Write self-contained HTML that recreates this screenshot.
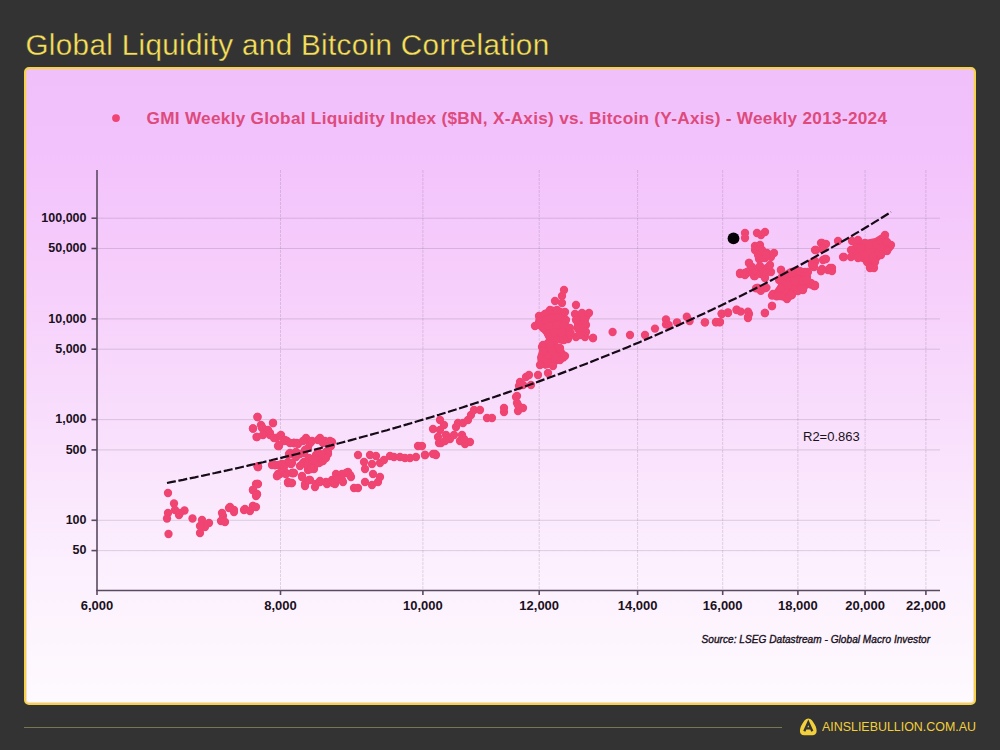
<!DOCTYPE html>
<html><head><meta charset="utf-8"><style>
html,body{margin:0;padding:0;}
body{width:1000px;height:750px;background:#333333;position:relative;overflow:hidden;font-family:"Liberation Sans",sans-serif;}
.title{position:absolute;left:25.5px;top:27px;font-size:29.6px;line-height:36px;color:#f8e05a;letter-spacing:0.35px;white-space:nowrap;-webkit-text-stroke:0.35px #333333;}
.card{position:absolute;left:23.6px;top:67.3px;width:948.4px;height:633.4px;border:2.6px solid #f5d24a;border-radius:5px;box-shadow:inset 0 0 0 1px rgba(246,200,170,0.55);
background:linear-gradient(180deg,#efc0fa 0%,#f2c2fc 13%,#f6cdfb 31%,#f8dcfc 52%,#fcf0fe 79%,#fefafe 100%);}
.fline{position:absolute;left:24px;top:727px;width:758px;height:1.2px;background:#7a7652;}
.flogo{position:absolute;left:822px;top:719.3px;font-size:13.4px;line-height:16px;color:#f2cf3c;white-space:nowrap;transform-origin:0 0;transform:scaleX(0.928);}
svg{position:absolute;left:0;top:0;}
</style></head><body>
<div class="title">Global Liquidity and Bitcoin Correlation</div>
<div class="card"></div>
<div class="fline"></div>
<svg width="1000" height="750" viewBox="0 0 1000 750">
<line x1="97" y1="218.2" x2="940" y2="218.2" stroke="#6a5a70" stroke-opacity="0.22" stroke-width="1"/><line x1="97" y1="248.5" x2="940" y2="248.5" stroke="#6a5a70" stroke-opacity="0.22" stroke-width="1"/><line x1="97" y1="318.9" x2="940" y2="318.9" stroke="#6a5a70" stroke-opacity="0.22" stroke-width="1"/><line x1="97" y1="349.2" x2="940" y2="349.2" stroke="#6a5a70" stroke-opacity="0.22" stroke-width="1"/><line x1="97" y1="419.6" x2="940" y2="419.6" stroke="#6a5a70" stroke-opacity="0.22" stroke-width="1"/><line x1="97" y1="449.9" x2="940" y2="449.9" stroke="#6a5a70" stroke-opacity="0.22" stroke-width="1"/><line x1="97" y1="520.3" x2="940" y2="520.3" stroke="#6a5a70" stroke-opacity="0.22" stroke-width="1"/><line x1="97" y1="550.6" x2="940" y2="550.6" stroke="#6a5a70" stroke-opacity="0.22" stroke-width="1"/><line x1="280.5" y1="170" x2="280.5" y2="590" stroke="#6a5a70" stroke-opacity="0.2" stroke-dasharray="3 1" stroke-width="1"/><line x1="422.9" y1="170" x2="422.9" y2="590" stroke="#6a5a70" stroke-opacity="0.2" stroke-dasharray="3 1" stroke-width="1"/><line x1="539.2" y1="170" x2="539.2" y2="590" stroke="#6a5a70" stroke-opacity="0.2" stroke-dasharray="3 1" stroke-width="1"/><line x1="637.6" y1="170" x2="637.6" y2="590" stroke="#6a5a70" stroke-opacity="0.2" stroke-dasharray="3 1" stroke-width="1"/><line x1="722.7" y1="170" x2="722.7" y2="590" stroke="#6a5a70" stroke-opacity="0.2" stroke-dasharray="3 1" stroke-width="1"/><line x1="797.9" y1="170" x2="797.9" y2="590" stroke="#6a5a70" stroke-opacity="0.2" stroke-dasharray="3 1" stroke-width="1"/><line x1="865.1" y1="170" x2="865.1" y2="590" stroke="#6a5a70" stroke-opacity="0.2" stroke-dasharray="3 1" stroke-width="1"/><line x1="925.9" y1="170" x2="925.9" y2="590" stroke="#6a5a70" stroke-opacity="0.2" stroke-dasharray="3 1" stroke-width="1"/>
<line x1="97" y1="170" x2="97" y2="591" stroke="#5a4a60" stroke-width="1.6"/><line x1="96.3" y1="590.5" x2="940" y2="590.5" stroke="#5a4a60" stroke-width="1.6"/><line x1="91.5" y1="218.2" x2="97" y2="218.2" stroke="#5a4a60" stroke-width="1.6"/><line x1="91.5" y1="248.5" x2="97" y2="248.5" stroke="#5a4a60" stroke-width="1.6"/><line x1="91.5" y1="318.9" x2="97" y2="318.9" stroke="#5a4a60" stroke-width="1.6"/><line x1="91.5" y1="349.2" x2="97" y2="349.2" stroke="#5a4a60" stroke-width="1.6"/><line x1="91.5" y1="419.6" x2="97" y2="419.6" stroke="#5a4a60" stroke-width="1.6"/><line x1="91.5" y1="449.9" x2="97" y2="449.9" stroke="#5a4a60" stroke-width="1.6"/><line x1="91.5" y1="520.3" x2="97" y2="520.3" stroke="#5a4a60" stroke-width="1.6"/><line x1="91.5" y1="550.6" x2="97" y2="550.6" stroke="#5a4a60" stroke-width="1.6"/><line x1="97.0" y1="590" x2="97.0" y2="595" stroke="#5a4a60" stroke-width="1.6"/><line x1="280.5" y1="590" x2="280.5" y2="595" stroke="#5a4a60" stroke-width="1.6"/><line x1="422.9" y1="590" x2="422.9" y2="595" stroke="#5a4a60" stroke-width="1.6"/><line x1="539.2" y1="590" x2="539.2" y2="595" stroke="#5a4a60" stroke-width="1.6"/><line x1="637.6" y1="590" x2="637.6" y2="595" stroke="#5a4a60" stroke-width="1.6"/><line x1="722.7" y1="590" x2="722.7" y2="595" stroke="#5a4a60" stroke-width="1.6"/><line x1="797.9" y1="590" x2="797.9" y2="595" stroke="#5a4a60" stroke-width="1.6"/><line x1="865.1" y1="590" x2="865.1" y2="595" stroke="#5a4a60" stroke-width="1.6"/><line x1="925.9" y1="590" x2="925.9" y2="595" stroke="#5a4a60" stroke-width="1.6"/>
<g font-family="Liberation Sans" font-weight="bold" font-size="12.5" fill="#1a1020"><text x="86.5" y="221.8" text-anchor="end">100,000</text><text x="86.5" y="252.1" text-anchor="end">50,000</text><text x="86.5" y="322.5" text-anchor="end">10,000</text><text x="86.5" y="352.8" text-anchor="end">5,000</text><text x="86.5" y="423.2" text-anchor="end">1,000</text><text x="86.5" y="453.5" text-anchor="end">500</text><text x="86.5" y="523.9" text-anchor="end">100</text><text x="86.5" y="554.2" text-anchor="end">50</text><text x="97.0" y="609.8" font-size="13" text-anchor="middle">6,000</text><text x="280.5" y="609.8" font-size="13" text-anchor="middle">8,000</text><text x="422.9" y="609.8" font-size="13" text-anchor="middle">10,000</text><text x="539.2" y="609.8" font-size="13" text-anchor="middle">12,000</text><text x="637.6" y="609.8" font-size="13" text-anchor="middle">14,000</text><text x="722.7" y="609.8" font-size="13" text-anchor="middle">16,000</text><text x="797.9" y="609.8" font-size="13" text-anchor="middle">18,000</text><text x="865.1" y="609.8" font-size="13" text-anchor="middle">20,000</text><text x="925.9" y="609.8" font-size="13" text-anchor="middle">22,000</text></g>
<circle cx="116" cy="118.1" r="3.9" fill="#f04472"/>
<text x="146.5" y="123.5" font-family="Liberation Sans" font-weight="bold" font-size="17.2" fill="#de4a7c" textLength="740.5" lengthAdjust="spacing">GMI Weekly Global Liquidity Index ($BN, X-Axis) vs. Bitcoin (Y-Axis) - Weekly 2013-2024</text>
<text x="803" y="441.4" font-family="Liberation Sans" font-size="13" fill="#1a1020">R2=0.863</text>
<text x="701.5" y="642.6" font-family="Liberation Sans" font-style="italic" font-size="10.1" fill="#1a1020" stroke="#1a1020" stroke-width="0.35" textLength="228.5" lengthAdjust="spacing">Source: LSEG Datastream - Global Macro Investor</text>
<g fill="#f04472"><polygon points="536,316 544,310 552,306.5 562,308 567,312 568,322 572,328 575,332 570,340 562,344 552,342 545,336 540,330 534,327"/><polygon points="573,312 590,310 592,314 589,320 588,332 584,337 578,336 574,330 574,320"/><polygon points="540,345 548,341 556,342 562,347 568,355 566,361 560,363 552,367 545,369 538,365 537,357 539,351"/><polygon points="778,275 790,268 801,267 809,271 810,280 815,284 819,287 815,290 808,288 805,293 797,294 793,299 787,302 777,299 770,296 773,292 778,285"/><polygon points="853,242 859,239 865,240 875,238 883,233 888,235 889,240 893,244 894,248 890,253 883,256 879,261 877,267 873,271 867,269 865,263 859,261 854,258 851,253 852,247"/><circle cx="168" cy="493" r="4.15"/><circle cx="174" cy="503.5" r="4.15"/><circle cx="168" cy="513" r="4.15"/><circle cx="167" cy="518.5" r="4.15"/><circle cx="175" cy="510" r="4.15"/><circle cx="179" cy="515" r="4.15"/><circle cx="184.5" cy="510.5" r="4.15"/><circle cx="180" cy="513" r="4.15"/><circle cx="168.5" cy="534" r="4.15"/><circle cx="192.5" cy="518.5" r="4.15"/><circle cx="202" cy="520" r="4.15"/><circle cx="209" cy="523" r="4.15"/><circle cx="205" cy="527" r="4.15"/><circle cx="200" cy="533" r="4.15"/><circle cx="200" cy="526" r="4.15"/><circle cx="223" cy="516" r="4.15"/><circle cx="221" cy="521" r="4.15"/><circle cx="225" cy="522" r="4.15"/><circle cx="229" cy="508" r="4.15"/><circle cx="234" cy="512" r="4.15"/><circle cx="244" cy="510" r="4.15"/><circle cx="250" cy="511" r="4.15"/><circle cx="253" cy="506" r="4.15"/><circle cx="253" cy="490" r="4.15"/><circle cx="256" cy="484" r="4.15"/><circle cx="253" cy="490" r="4.15"/><circle cx="256" cy="496" r="4.15"/><circle cx="230" cy="507" r="4.15"/><circle cx="234" cy="510" r="4.15"/><circle cx="245" cy="509" r="4.15"/><circle cx="253" cy="506" r="4.15"/><circle cx="222" cy="513" r="4.15"/><circle cx="257.5" cy="417" r="4.15"/><circle cx="253" cy="428.5" r="4.15"/><circle cx="257" cy="437" r="4.15"/><circle cx="262" cy="427" r="4.15"/><circle cx="266" cy="432" r="4.15"/><circle cx="273" cy="423" r="4.15"/><circle cx="270" cy="435" r="4.15"/><circle cx="276" cy="438" r="4.15"/><circle cx="279" cy="446" r="4.15"/><circle cx="281" cy="435" r="4.15"/><circle cx="287" cy="441" r="4.15"/><circle cx="294" cy="443" r="4.15"/><circle cx="257.5" cy="466.5" r="4.15"/><circle cx="272" cy="465" r="4.15"/><circle cx="279" cy="465" r="4.15"/><circle cx="288" cy="463" r="4.15"/><circle cx="292" cy="454" r="4.15"/><circle cx="278" cy="474" r="4.15"/><circle cx="286" cy="473" r="4.15"/><circle cx="293" cy="473" r="4.15"/><circle cx="257.5" cy="417" r="4.15"/><circle cx="253" cy="428.5" r="4.15"/><circle cx="256.5" cy="437" r="4.15"/><circle cx="261" cy="425" r="4.15"/><circle cx="265" cy="430" r="4.15"/><circle cx="273" cy="423" r="4.15"/><circle cx="270" cy="433" r="4.15"/><circle cx="274" cy="438" r="4.15"/><circle cx="279" cy="445" r="4.15"/><circle cx="280" cy="436" r="4.15"/><circle cx="285" cy="440" r="4.15"/><circle cx="294" cy="443" r="4.15"/><circle cx="297" cy="443" r="4.15"/><circle cx="306" cy="438" r="4.15"/><circle cx="310" cy="443" r="4.15"/><circle cx="308" cy="448" r="4.15"/><circle cx="320" cy="438" r="4.15"/><circle cx="325" cy="441" r="4.15"/><circle cx="332" cy="442" r="4.15"/><circle cx="328" cy="452" r="4.15"/><circle cx="290" cy="453" r="4.15"/><circle cx="296" cy="452" r="4.15"/><circle cx="304" cy="453" r="4.15"/><circle cx="292" cy="463" r="4.15"/><circle cx="288" cy="462" r="4.15"/><circle cx="275" cy="465" r="4.15"/><circle cx="280" cy="466" r="4.15"/><circle cx="258" cy="467" r="4.15"/><circle cx="304" cy="462" r="4.15"/><circle cx="310" cy="461" r="4.15"/><circle cx="320" cy="462" r="4.15"/><circle cx="308" cy="467" r="4.15"/><circle cx="314" cy="467" r="4.15"/><circle cx="316" cy="455" r="4.15"/><circle cx="280" cy="474" r="4.15"/><circle cx="292" cy="473" r="4.15"/><circle cx="336" cy="474" r="4.15"/><circle cx="258" cy="466.5" r="4.15"/><circle cx="257.5" cy="484" r="4.15"/><circle cx="253" cy="490" r="4.15"/><circle cx="257" cy="494.5" r="4.15"/><circle cx="277" cy="476" r="4.15"/><circle cx="286" cy="474" r="4.15"/><circle cx="293" cy="473" r="4.15"/><circle cx="288" cy="482" r="4.15"/><circle cx="292" cy="483" r="4.15"/><circle cx="275" cy="465" r="4.15"/><circle cx="282" cy="464" r="4.15"/><circle cx="291" cy="463" r="4.15"/><circle cx="289" cy="454" r="4.15"/><circle cx="303" cy="463" r="4.15"/><circle cx="308" cy="466" r="4.15"/><circle cx="312" cy="462" r="4.15"/><circle cx="320" cy="462" r="4.15"/><circle cx="308" cy="470" r="4.15"/><circle cx="314" cy="469" r="4.15"/><circle cx="302" cy="476" r="4.15"/><circle cx="305" cy="484" r="4.15"/><circle cx="310" cy="480" r="4.15"/><circle cx="316" cy="484" r="4.15"/><circle cx="320" cy="482" r="4.15"/><circle cx="326" cy="482" r="4.15"/><circle cx="332" cy="480" r="4.15"/><circle cx="337" cy="476" r="4.15"/><circle cx="335" cy="484" r="4.15"/><circle cx="326" cy="452" r="4.15"/><circle cx="328" cy="454" r="4.15"/><circle cx="278" cy="446" r="4.15"/><circle cx="294" cy="443" r="4.15"/><circle cx="310" cy="443" r="4.15"/><circle cx="323" cy="443" r="4.15"/><circle cx="258" cy="467" r="4.15"/><circle cx="275" cy="465" r="4.15"/><circle cx="282" cy="464" r="4.15"/><circle cx="291" cy="464" r="4.15"/><circle cx="277" cy="476" r="4.15"/><circle cx="286" cy="474" r="4.15"/><circle cx="294" cy="473" r="4.15"/><circle cx="288" cy="483" r="4.15"/><circle cx="291" cy="483" r="4.15"/><circle cx="258" cy="484" r="4.15"/><circle cx="257" cy="494" r="4.15"/><circle cx="256" cy="507" r="4.15"/><circle cx="305" cy="462" r="4.15"/><circle cx="311" cy="464" r="4.15"/><circle cx="319" cy="463" r="4.15"/><circle cx="323" cy="461" r="4.15"/><circle cx="311" cy="469" r="4.15"/><circle cx="302" cy="477" r="4.15"/><circle cx="305" cy="486" r="4.15"/><circle cx="309" cy="480" r="4.15"/><circle cx="315" cy="487" r="4.15"/><circle cx="320" cy="481" r="4.15"/><circle cx="327" cy="484" r="4.15"/><circle cx="333" cy="483" r="4.15"/><circle cx="338" cy="479" r="4.15"/><circle cx="342" cy="474" r="4.15"/><circle cx="348" cy="472" r="4.15"/><circle cx="351" cy="477" r="4.15"/><circle cx="343" cy="482" r="4.15"/><circle cx="354" cy="488" r="4.15"/><circle cx="358" cy="455" r="4.15"/><circle cx="364" cy="462" r="4.15"/><circle cx="370" cy="455" r="4.15"/><circle cx="376" cy="456" r="4.15"/><circle cx="365" cy="469" r="4.15"/><circle cx="372" cy="464" r="4.15"/><circle cx="380" cy="463" r="4.15"/><circle cx="384" cy="460" r="4.15"/><circle cx="390" cy="456" r="4.15"/><circle cx="394" cy="457" r="4.15"/><circle cx="400" cy="457" r="4.15"/><circle cx="405" cy="458" r="4.15"/><circle cx="410" cy="458" r="4.15"/><circle cx="416" cy="457" r="4.15"/><circle cx="418" cy="446" r="4.15"/><circle cx="425" cy="455" r="4.15"/><circle cx="433" cy="454" r="4.15"/><circle cx="436" cy="455" r="4.15"/><circle cx="439" cy="443" r="4.15"/><circle cx="346" cy="473" r="4.15"/><circle cx="350" cy="475" r="4.15"/><circle cx="342" cy="480" r="4.15"/><circle cx="373" cy="474" r="4.15"/><circle cx="380" cy="477" r="4.15"/><circle cx="378" cy="482" r="4.15"/><circle cx="372" cy="485" r="4.15"/><circle cx="365" cy="482" r="4.15"/><circle cx="358" cy="488" r="4.15"/><circle cx="330" cy="441" r="4.15"/><circle cx="433" cy="429" r="4.15"/><circle cx="440" cy="420" r="4.15"/><circle cx="444" cy="425" r="4.15"/><circle cx="440" cy="430" r="4.15"/><circle cx="438" cy="437" r="4.15"/><circle cx="441" cy="443" r="4.15"/><circle cx="446" cy="435" r="4.15"/><circle cx="450" cy="439" r="4.15"/><circle cx="445" cy="441" r="4.15"/><circle cx="454" cy="435" r="4.15"/><circle cx="456" cy="427" r="4.15"/><circle cx="458" cy="423" r="4.15"/><circle cx="463" cy="423" r="4.15"/><circle cx="468" cy="420" r="4.15"/><circle cx="471" cy="415" r="4.15"/><circle cx="474" cy="410" r="4.15"/><circle cx="480" cy="410" r="4.15"/><circle cx="462" cy="435" r="4.15"/><circle cx="460" cy="441" r="4.15"/><circle cx="465" cy="444" r="4.15"/><circle cx="470" cy="442" r="4.15"/><circle cx="464" cy="439" r="4.15"/><circle cx="487" cy="418" r="4.15"/><circle cx="492" cy="418" r="4.15"/><circle cx="504" cy="412" r="4.15"/><circle cx="516" cy="397" r="4.15"/><circle cx="517" cy="403" r="4.15"/><circle cx="518" cy="411" r="4.15"/><circle cx="519" cy="386" r="4.15"/><circle cx="422" cy="446" r="4.15"/><circle cx="425" cy="455" r="4.15"/><circle cx="435" cy="454" r="4.15"/><circle cx="504" cy="408" r="4.15"/><circle cx="517" cy="396" r="4.15"/><circle cx="518" cy="405" r="4.15"/><circle cx="523" cy="408" r="4.15"/><circle cx="520" cy="382" r="4.15"/><circle cx="526" cy="377" r="4.15"/><circle cx="529" cy="375" r="4.15"/><circle cx="523" cy="385" r="4.15"/><circle cx="531" cy="385" r="4.15"/><circle cx="538" cy="375" r="4.15"/><circle cx="548" cy="373" r="4.15"/><circle cx="540" cy="365" r="4.15"/><circle cx="542" cy="358" r="4.15"/><circle cx="548" cy="363" r="4.15"/><circle cx="553" cy="366" r="4.15"/><circle cx="548" cy="355" r="4.15"/><circle cx="555" cy="358" r="4.15"/><circle cx="560" cy="360" r="4.15"/><circle cx="565" cy="356" r="4.15"/><circle cx="542" cy="347" r="4.15"/><circle cx="548" cy="343" r="4.15"/><circle cx="553" cy="350" r="4.15"/><circle cx="560" cy="349" r="4.15"/><circle cx="552" cy="339" r="4.15"/><circle cx="560" cy="339" r="4.15"/><circle cx="568" cy="339" r="4.15"/><circle cx="576" cy="337" r="4.15"/><circle cx="585" cy="337" r="4.15"/><circle cx="593" cy="338" r="4.15"/><circle cx="549" cy="336" r="4.15"/><circle cx="564" cy="290" r="4.15"/><circle cx="562" cy="296" r="4.15"/><circle cx="555" cy="301" r="4.15"/><circle cx="562" cy="303" r="4.15"/><circle cx="576" cy="305" r="4.15"/><circle cx="550" cy="310" r="4.15"/><circle cx="557" cy="310" r="4.15"/><circle cx="565" cy="312" r="4.15"/><circle cx="539" cy="316" r="4.15"/><circle cx="545" cy="314" r="4.15"/><circle cx="535" cy="326" r="4.15"/><circle cx="540" cy="322" r="4.15"/><circle cx="546" cy="320" r="4.15"/><circle cx="552" cy="318" r="4.15"/><circle cx="559" cy="318" r="4.15"/><circle cx="566" cy="320" r="4.15"/><circle cx="543" cy="328" r="4.15"/><circle cx="550" cy="326" r="4.15"/><circle cx="557" cy="325" r="4.15"/><circle cx="564" cy="326" r="4.15"/><circle cx="570" cy="328" r="4.15"/><circle cx="548" cy="334" r="4.15"/><circle cx="555" cy="333" r="4.15"/><circle cx="562" cy="333" r="4.15"/><circle cx="570" cy="335" r="4.15"/><circle cx="556" cy="340" r="4.15"/><circle cx="564" cy="340" r="4.15"/><circle cx="575" cy="314" r="4.15"/><circle cx="582" cy="313" r="4.15"/><circle cx="589" cy="313" r="4.15"/><circle cx="576" cy="320" r="4.15"/><circle cx="584" cy="320" r="4.15"/><circle cx="586" cy="325" r="4.15"/><circle cx="580" cy="328" r="4.15"/><circle cx="586" cy="332" r="4.15"/><circle cx="580" cy="335" r="4.15"/><circle cx="593" cy="338" r="4.15"/><circle cx="543" cy="345" r="4.15"/><circle cx="550" cy="344" r="4.15"/><circle cx="560" cy="348" r="4.15"/><circle cx="543" cy="351" r="4.15"/><circle cx="552" cy="351" r="4.15"/><circle cx="612.6" cy="332" r="4.15"/><circle cx="630" cy="335" r="4.15"/><circle cx="645" cy="335" r="4.15"/><circle cx="655" cy="328.6" r="4.15"/><circle cx="666" cy="319.5" r="4.15"/><circle cx="666" cy="324.4" r="4.15"/><circle cx="668.6" cy="325" r="4.15"/><circle cx="677" cy="322.3" r="4.15"/><circle cx="686.8" cy="316.7" r="4.15"/><circle cx="689.6" cy="321" r="4.15"/><circle cx="705" cy="322.3" r="4.15"/><circle cx="716" cy="322.3" r="4.15"/><circle cx="719.7" cy="322.3" r="4.15"/><circle cx="721.8" cy="314" r="4.15"/><circle cx="728" cy="312.5" r="4.15"/><circle cx="736.5" cy="309.7" r="4.15"/><circle cx="745" cy="233" r="4.15"/><circle cx="745" cy="238" r="4.15"/><circle cx="757" cy="233" r="4.15"/><circle cx="765" cy="232" r="4.15"/><circle cx="761" cy="235" r="4.15"/><circle cx="755" cy="246" r="4.15"/><circle cx="760" cy="245" r="4.15"/><circle cx="760" cy="252" r="4.15"/><circle cx="767" cy="253" r="4.15"/><circle cx="774" cy="253" r="4.15"/><circle cx="759" cy="259" r="4.15"/><circle cx="765" cy="258" r="4.15"/><circle cx="749" cy="263" r="4.15"/><circle cx="752" cy="267" r="4.15"/><circle cx="740" cy="273" r="4.15"/><circle cx="747" cy="273" r="4.15"/><circle cx="754" cy="276" r="4.15"/><circle cx="761" cy="274" r="4.15"/><circle cx="767" cy="268" r="4.15"/><circle cx="771" cy="272" r="4.15"/><circle cx="765" cy="278" r="4.15"/><circle cx="781" cy="270" r="4.15"/><circle cx="758" cy="288" r="4.15"/><circle cx="765" cy="288" r="4.15"/><circle cx="782" cy="282" r="4.15"/><circle cx="787" cy="276" r="4.15"/><circle cx="793" cy="272" r="4.15"/><circle cx="799" cy="272" r="4.15"/><circle cx="805" cy="275" r="4.15"/><circle cx="790" cy="282" r="4.15"/><circle cx="798" cy="280" r="4.15"/><circle cx="805" cy="282" r="4.15"/><circle cx="785" cy="290" r="4.15"/><circle cx="795" cy="288" r="4.15"/><circle cx="803" cy="290" r="4.15"/><circle cx="814" cy="286" r="4.15"/><circle cx="812" cy="265" r="4.15"/><circle cx="815" cy="262" r="4.15"/><circle cx="821" cy="271" r="4.15"/><circle cx="823" cy="260" r="4.15"/><circle cx="815" cy="250" r="4.15"/><circle cx="821" cy="243" r="4.15"/><circle cx="823" cy="248" r="4.15"/><circle cx="773" cy="294" r="4.15"/><circle cx="779" cy="294" r="4.15"/><circle cx="749" cy="263" r="4.15"/><circle cx="747" cy="272" r="4.15"/><circle cx="755" cy="276" r="4.15"/><circle cx="761" cy="271" r="4.15"/><circle cx="768" cy="270" r="4.15"/><circle cx="765" cy="277" r="4.15"/><circle cx="757" cy="288" r="4.15"/><circle cx="765" cy="288" r="4.15"/><circle cx="762" cy="258" r="4.15"/><circle cx="771" cy="257" r="4.15"/><circle cx="781" cy="270" r="4.15"/><circle cx="779" cy="280" r="4.15"/><circle cx="785" cy="275" r="4.15"/><circle cx="791" cy="273" r="4.15"/><circle cx="799" cy="271" r="4.15"/><circle cx="805" cy="272" r="4.15"/><circle cx="781" cy="288" r="4.15"/><circle cx="788" cy="285" r="4.15"/><circle cx="795" cy="281" r="4.15"/><circle cx="803" cy="281" r="4.15"/><circle cx="807" cy="277" r="4.15"/><circle cx="773" cy="295" r="4.15"/><circle cx="780" cy="296" r="4.15"/><circle cx="787" cy="299" r="4.15"/><circle cx="792" cy="295" r="4.15"/><circle cx="798" cy="291" r="4.15"/><circle cx="803" cy="289" r="4.15"/><circle cx="815" cy="286" r="4.15"/><circle cx="811" cy="283" r="4.15"/><circle cx="813" cy="265" r="4.15"/><circle cx="815" cy="261" r="4.15"/><circle cx="825" cy="259" r="4.15"/><circle cx="821" cy="271" r="4.15"/><circle cx="828" cy="270" r="4.15"/><circle cx="832" cy="268" r="4.15"/><circle cx="843" cy="257" r="4.15"/><circle cx="772" cy="306" r="4.15"/><circle cx="765" cy="313" r="4.15"/><circle cx="749" cy="314" r="4.15"/><circle cx="748" cy="318" r="4.15"/><circle cx="822" cy="243" r="4.15"/><circle cx="826" cy="244" r="4.15"/><circle cx="816" cy="250" r="4.15"/><circle cx="822" cy="249" r="4.15"/><circle cx="838" cy="241" r="4.15"/><circle cx="826" cy="259" r="4.15"/><circle cx="812" cy="263" r="4.15"/><circle cx="814" cy="267" r="4.15"/><circle cx="822" cy="269" r="4.15"/><circle cx="830" cy="268" r="4.15"/><circle cx="832" cy="271" r="4.15"/><circle cx="808" cy="272" r="4.15"/><circle cx="807" cy="280" r="4.15"/><circle cx="815" cy="285" r="4.15"/><circle cx="844" cy="257" r="4.15"/><circle cx="851" cy="250" r="4.15"/><circle cx="852" cy="241" r="4.15"/><circle cx="858" cy="240" r="4.15"/><circle cx="865" cy="243" r="4.15"/><circle cx="861" cy="248" r="4.15"/><circle cx="851" cy="257" r="4.15"/><circle cx="858" cy="258" r="4.15"/><circle cx="865" cy="255" r="4.15"/><circle cx="871" cy="251" r="4.15"/><circle cx="875" cy="245" r="4.15"/><circle cx="881" cy="240" r="4.15"/><circle cx="885" cy="235" r="4.15"/><circle cx="881" cy="248" r="4.15"/><circle cx="891" cy="245" r="4.15"/><circle cx="887" cy="251" r="4.15"/><circle cx="881" cy="255" r="4.15"/><circle cx="873" cy="257" r="4.15"/><circle cx="867" cy="262" r="4.15"/><circle cx="875" cy="262" r="4.15"/><circle cx="870" cy="268" r="4.15"/><circle cx="874" cy="268" r="4.15"/><circle cx="869" cy="245" r="4.15"/><circle cx="887" cy="242" r="4.15"/><circle cx="704.8" cy="322.4" r="4.15"/><circle cx="716" cy="322" r="4.15"/><circle cx="720" cy="322" r="4.15"/><circle cx="721.6" cy="313.6" r="4.15"/><circle cx="728" cy="313" r="4.15"/><circle cx="736.8" cy="310" r="4.15"/><circle cx="740.8" cy="311.6" r="4.15"/><circle cx="748" cy="311.6" r="4.15"/><circle cx="748" cy="317" r="4.15"/><circle cx="764.8" cy="313" r="4.15"/><circle cx="772" cy="306" r="4.15"/><circle cx="740" cy="274" r="4.15"/><circle cx="744.8" cy="273" r="4.15"/><circle cx="756" cy="288.4" r="4.15"/><circle cx="760.8" cy="290.8" r="4.15"/><circle cx="766.4" cy="287.6" r="4.15"/><circle cx="772" cy="295.6" r="4.15"/><circle cx="776.8" cy="296.4" r="4.15"/><circle cx="262" cy="428" r="4.15"/><circle cx="268" cy="430" r="4.15"/><circle cx="263" cy="435" r="4.15"/><circle cx="284" cy="441" r="4.15"/><circle cx="290" cy="443" r="4.15"/><circle cx="298" cy="444" r="4.15"/><circle cx="303" cy="441" r="4.15"/><circle cx="312" cy="441" r="4.15"/><circle cx="318" cy="440" r="4.15"/><circle cx="328" cy="443" r="4.15"/><circle cx="331" cy="446" r="4.15"/><circle cx="305" cy="450" r="4.15"/><circle cx="300" cy="454" r="4.15"/><circle cx="296" cy="457" r="4.15"/><circle cx="318" cy="452" r="4.15"/><circle cx="322" cy="455" r="4.15"/><circle cx="326" cy="458" r="4.15"/><circle cx="309" cy="458" r="4.15"/><circle cx="313" cy="460" r="4.15"/><circle cx="306" cy="464" r="4.15"/><circle cx="300" cy="466" r="4.15"/><circle cx="284" cy="467" r="4.15"/><circle cx="755" cy="250" r="4.15"/><circle cx="758" cy="255" r="4.15"/><circle cx="762" cy="250" r="4.15"/><circle cx="766" cy="255" r="4.15"/><circle cx="750" cy="270" r="4.15"/><circle cx="755" cy="270" r="4.15"/><circle cx="760" cy="266" r="4.15"/><circle cx="764" cy="272" r="4.15"/><circle cx="770" cy="265" r="4.15"/><circle cx="745" cy="275" r="4.15"/></g>
<polyline points="167.0,483.0 171.0,482.2 175.0,481.4 179.0,480.6 183.0,479.8 187.0,478.9 191.0,478.1 195.0,477.3 199.0,476.4 203.0,475.6 207.0,474.7 211.0,473.8 215.0,473.0 219.0,472.1 223.0,471.2 227.0,470.4 231.0,469.5 235.0,468.6 239.0,467.7 243.0,466.8 247.0,465.9 251.0,464.9 255.0,464.0 259.0,463.1 263.0,462.2 267.0,461.2 271.0,460.3 275.0,459.3 279.0,458.4 283.0,457.4 287.0,456.4 291.0,455.5 295.0,454.5 299.0,453.5 303.0,452.5 307.0,451.5 311.0,450.5 315.0,449.5 319.0,448.5 323.0,447.5 327.0,446.4 331.0,445.4 335.0,444.3 339.0,443.3 343.0,442.2 347.0,441.2 351.0,440.1 355.0,439.0 359.0,437.9 363.0,436.8 367.0,435.7 371.0,434.6 375.0,433.5 379.0,432.4 383.0,431.3 387.0,430.2 391.0,429.0 395.0,427.9 399.0,426.7 403.0,425.5 407.0,424.4 411.0,423.2 415.0,422.0 419.0,420.8 423.0,419.6 427.0,418.4 431.0,417.2 435.0,416.0 439.0,414.8 443.0,413.5 447.0,412.3 451.0,411.0 455.0,409.8 459.0,408.5 463.0,407.2 467.0,405.9 471.0,404.6 475.0,403.3 479.0,402.0 483.0,400.7 487.0,399.4 491.0,398.1 495.0,396.7 499.0,395.4 503.0,394.0 507.0,392.6 511.0,391.3 515.0,389.9 519.0,388.5 523.0,387.1 527.0,385.7 531.0,384.3 535.0,382.8 539.0,381.4 543.0,379.9 547.0,378.5 551.0,377.0 555.0,375.5 559.0,374.1 563.0,372.6 567.0,371.1 571.0,369.6 575.0,368.0 579.0,366.5 583.0,365.0 587.0,363.4 591.0,361.9 595.0,360.3 599.0,358.7 603.0,357.1 607.0,355.5 611.0,353.9 615.0,352.3 619.0,350.7 623.0,349.0 627.0,347.4 631.0,345.7 635.0,344.0 639.0,342.4 643.0,340.7 647.0,339.0 651.0,337.2 655.0,335.5 659.0,333.8 663.0,332.0 667.0,330.3 671.0,328.5 675.0,326.7 679.0,324.9 683.0,323.1 687.0,321.3 691.0,319.5 695.0,317.7 699.0,315.8 703.0,314.0 707.0,312.1 711.0,310.2 715.0,308.3 719.0,306.4 723.0,304.5 727.0,302.6 731.0,300.6 735.0,298.7 739.0,296.7 743.0,294.7 747.0,292.7 751.0,290.7 755.0,288.7 759.0,286.7 763.0,284.6 767.0,282.6 771.0,280.5 775.0,278.4 779.0,276.3 783.0,274.2 787.0,272.1 791.0,270.0 795.0,267.8 799.0,265.7 803.0,263.5 807.0,261.3 811.0,259.1 815.0,256.9 819.0,254.7 823.0,252.4 827.0,250.2 831.0,247.9 835.0,245.6 839.0,243.3 843.0,241.0 847.0,238.7 851.0,236.3 855.0,233.9 859.0,231.6 863.0,229.2 867.0,226.8 871.0,224.4 875.0,221.9 879.0,219.5 883.0,217.0 887.0,214.5 891.0,212.0" fill="none" stroke="#150a15" stroke-width="2.2" stroke-dasharray="9 2.6"/>
<circle cx="733.5" cy="238.4" r="5.9" fill="#050005"/>
<path d="M808.3 718.4 C811 718.4 813 721 815 725 C817.6 730 817.4 735.2 812.5 735.2 L804.1 735.2 C799.2 735.2 799 730 801.6 725 C803.6 721 805.6 718.4 808.3 718.4 Z" fill="#f2cf3c"/>
<path d="M804.3 731.2 L808.3 722.4 L812.3 731.2 M805.9 728.4 L810.7 728.4" fill="none" stroke="#333333" stroke-width="2.3"/>
</svg>
<div class="flogo">AINSLIEBULLION.COM.AU</div>
</body></html>
